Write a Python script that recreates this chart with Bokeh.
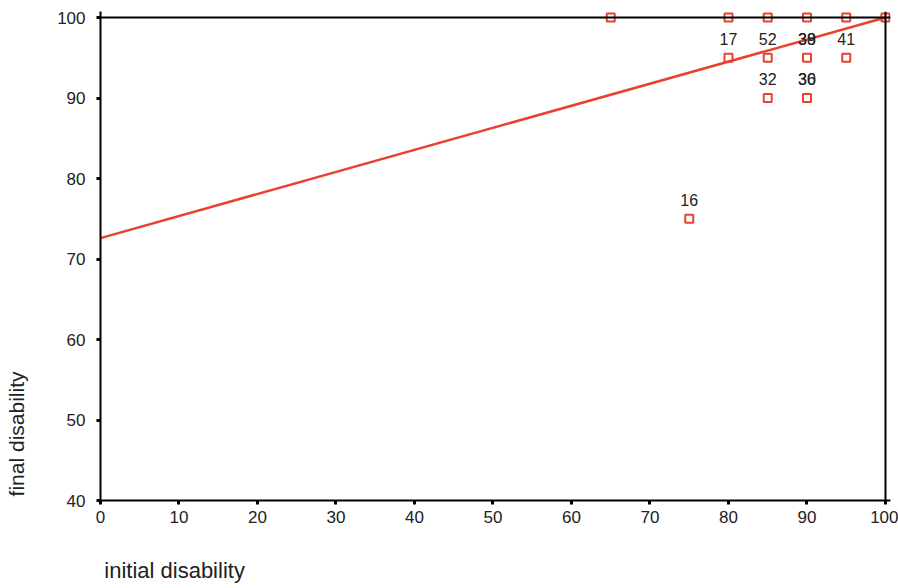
from bokeh.plotting import figure
from bokeh.models import ColumnDataSource, FixedTicker, Span
from bokeh.core.properties import value
from bokeh.embed import file_html
from bokeh.resources import INLINE

# data
initial = [65, 80, 85, 90, 95, 100, 80, 85, 90, 95, 85, 90, 75]
final = [100, 100, 100, 100, 100, 100, 95, 95, 95, 95, 90, 90, 75]

lab_x = [80, 85, 90, 90, 95, 85, 90, 90, 75]
lab_y = [95, 95, 95, 95, 95, 90, 90, 90, 75]
lab_t = ["17", "52", "38", "39", "41", "32", "30", "36", "16"]

fit_x = [0, 100]
fit_y = [72.6, 100]

x_ticks = [0, 10, 20, 30, 40, 50, 60, 70, 80, 90, 100]
y_ticks = [40, 50, 60, 70, 80, 90, 100]

x_title = "initial disability"
y_title = "final disability"

RED = "#e8412f"
FONT = "Liberation Sans"
TXT = "#222222"
NBSP = "\u00a0"

p = figure(width=898, height=588, output_backend="svg", toolbar_location=None,
           x_range=(0, 100.64), y_range=(40, 100.75))
p.min_border_left = 100
p.min_border_right = 8
p.min_border_top = 11
p.min_border_bottom = 88
p.background_fill_color = "white"
p.border_fill_color = "white"
p.outline_line_color = None
p.grid.visible = False

for ax in (p.xaxis, p.yaxis):
    ax.axis_line_color = "black"
    ax.axis_line_width = 2
    ax.major_tick_line_width = 3
    ax.major_tick_out = 4
    ax.major_tick_in = 0
    ax.minor_tick_line_color = None
    ax.major_label_text_font = FONT
    ax.major_label_text_font_size = "17px"
    ax.major_label_text_color = TXT
    ax.axis_label_text_font = FONT
    ax.axis_label_text_font_style = "normal"
    ax.axis_label_text_color = TXT
p.xaxis.ticker = FixedTicker(ticks=x_ticks)
p.yaxis.ticker = FixedTicker(ticks=y_ticks)
p.xaxis.major_label_standoff = 6
p.yaxis.major_label_standoff = 11
# axis titles sit toward the start of each axis (padded with no-break spaces)
p.xaxis.axis_label = x_title + NBSP * 105
p.yaxis.axis_label = y_title + NBSP * 61
p.xaxis.axis_label_text_font_size = "22px"
p.yaxis.axis_label_text_font_size = "21px"
p.xaxis.axis_label_standoff = 32
p.yaxis.axis_label_standoff = 26

# top and right frame lines at 100
p.add_layout(Span(location=100, dimension="width", line_color="black", line_width=2))
p.add_layout(Span(location=100, dimension="height", line_color="black", line_width=2))

p.line(fit_x, fit_y, line_color=RED, line_width=2.5)

src = ColumnDataSource(dict(x=initial, y=final))
p.scatter("x", "y", source=src, marker="square", size=8, fill_color=None,
          line_color=RED, line_width=2)

lsrc = ColumnDataSource(dict(x=lab_x, y=lab_y, t=lab_t))
p.text("x", "y", text="t", source=lsrc, text_font=value(FONT), text_font_size="16px",
       text_color=TXT, text_align="center", text_baseline="bottom", y_offset=-13)

open("out.html", "w").write(file_html(p, INLINE))
